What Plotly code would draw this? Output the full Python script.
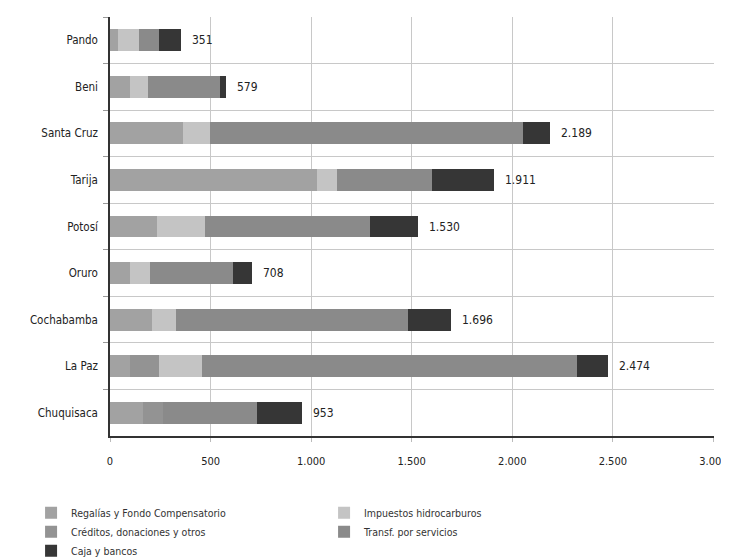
import plotly.graph_objects as go

categories = ["Pando", "Beni", "Santa Cruz", "Tarija", "Potosí", "Oruro", "Cochabamba", "La Paz", "Chuquisaca"]
regalias = [40, 100, 363, 1028, 233, 100, 209, 100, 165]
creditos = [0, 0, 0, 0, 0, 0, 0, 144, 100]
impuestos = [105, 89, 134, 100, 238, 100, 119, 214, 0]
transf = [100, 358, 1555, 472, 820, 412, 1152, 1863, 467]
caja = [106, 32, 137, 311, 239, 96, 216, 153, 221]
totals = [351, 579, 2189, 1911, 1530, 708, 1696, 2474, 953]
total_labels = ["351", "579", "2.189", "1.911", "1.530", "708", "1.696", "2.474", "953"]
x_ticks = [0, 500, 1000, 1500, 2000, 2500, 3000]

series = [
    ("Regalías y Fondo Compensatorio", regalias, "#a2a2a2", 1),
    ("Créditos, donaciones y otros", creditos, "#939393", 3),
    ("Impuestos hidrocarburos", impuestos, "#c4c4c4", 2),
    ("Transf. por servicios", transf, "#8a8a8a", 4),
    ("Caja y bancos", caja, "#363636", 5),
]

font_family = "DejaVu Sans Condensed, Liberation Sans, Arial, sans-serif"

fig = go.Figure()
for name, vals, color, rank in series:
    fig.add_trace(go.Bar(
        y=categories, x=vals, name=name, orientation="h",
        marker=dict(color=color, line=dict(width=0)),
        legendrank=rank, hoverinfo="x+name",
    ))

for cat, tot, lab in zip(categories, totals, total_labels):
    fig.add_annotation(x=tot, y=cat, text=lab, showarrow=False,
                       xanchor="left", xshift=9, font=dict(size=12, color="#222"))

fig.update_layout(
    width=721, height=549,
    barmode="stack", bargap=0.53,
    separators=",.",
    plot_bgcolor="white", paper_bgcolor="white",
    margin=dict(l=102, r=15, t=9, b=121),
    font=dict(family=font_family, size=12, color="#222"),
    showlegend=True,
    legend=dict(
        orientation="h", xref="container", yref="container",
        x=0.032, y=0.107, xanchor="left", yanchor="top",
        entrywidth=248, entrywidthmode="pixels",
        font=dict(size=10.5, color="#333"),
        traceorder="normal", itemsizing="constant",
        tracegroupgap=0,
    ),
    xaxis=dict(
        range=[0, 3003], tickvals=x_ticks,
        tickformat=",d", showgrid=True, gridcolor="#c8c8c8", gridwidth=1,
        showline=True, linecolor="#333", linewidth=1.5,
        ticks="outside", ticklen=4, tickcolor="#bbb",
        tickfont=dict(size=11, color="#222"), zeroline=False,
        automargin=False, ticklabelstandoff=10, ticklabeloverflow="allow",
    ),
    yaxis=dict(
        type="category", categoryorder="array", categoryarray=categories,
        autorange="reversed", tickson="boundaries",
        showgrid=True, gridcolor="#c8c8c8", gridwidth=1,
        showline=True, linecolor="#333", linewidth=1.5,
        ticks="outside", ticklen=5, tickcolor="#999",
        tickfont=dict(size=11.5, color="#222"), automargin=False,
        ticklabelstandoff=8,
    ),
)

fig.write_html("out.html")
